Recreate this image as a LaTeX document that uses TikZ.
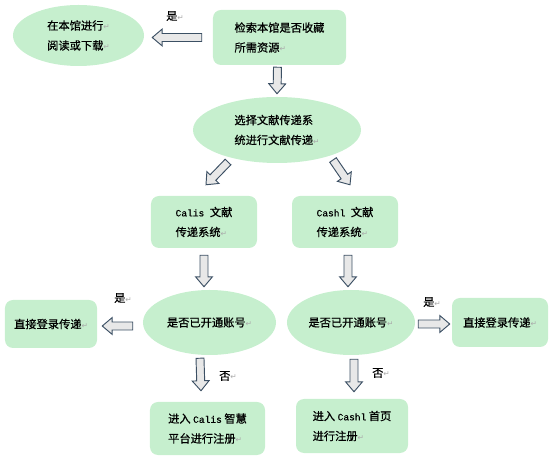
\documentclass[tikz,border=0pt]{standalone}
\definecolor{nodegreen}{RGB}{198,239,206}
\definecolor{arrowfill}{RGB}{232,232,232}
\definecolor{arrowedge}{RGB}{60,80,100}
\definecolor{markgray}{RGB}{170,170,170}
\usepackage{fontspec}
\setmainfont{Noto Sans CJK SC}[FakeBold=0.6, AutoFakeBold=0.6]
\setmonofont{Liberation Mono}[Scale=0.85, FakeBold=0.6]
\newfontfamily\markfont{DejaVu Sans}
\usetikzlibrary{shapes.geometric,calc}
\newcommand{\pmark}{{\markfont\color{markgray}\fontsize{6.5}{6.5}\selectfont ↵}}

\tikzset{
  greenbox/.style={fill=nodegreen, rounded corners=0.24cm, align=left, inner sep=0pt},
  greenoval/.style={ellipse, fill=nodegreen, align=left, inner sep=0pt},
  marklabel/.style={anchor=west, inner sep=0pt},
  blockarrow/.style={draw=arrowedge, fill=arrowfill, line width=0.8pt, line join=miter,
    to path={let \p1=(\tikztostart), \p2=(\tikztotarget),
      \n1={atan2(\y2-\y1,\x2-\x1)}, \n2={veclen(\x2-\x1,\y2-\y1)} in
      ($(\p1)+(\n1+90:3.4pt)$) -- ($(\p1)+(\n1:\n2-8.5pt)+(\n1+90:3.4pt)$)
      -- ($(\p1)+(\n1:\n2-8.5pt)+(\n1+90:7.2pt)$) -- (\p2)
      -- ($(\p1)+(\n1:\n2-8.5pt)+(\n1-90:7.2pt)$) -- ($(\p1)+(\n1:\n2-8.5pt)+(\n1-90:3.4pt)$)
      -- ($(\p1)+(\n1-90:3.4pt)$) -- cycle}}
}

\begin{document}
\begin{tikzpicture}[x=0.03cm, y=-0.03cm, font=\fontsize{9.6}{17}\selectfont]
    \useasboundingbox (0,0) rectangle (554,459);

    % top row
    \node[greenbox, minimum width=3.99cm, minimum height=1.65cm] (chk) at (279.5,37.5) {检索本馆是否收藏\\所需资源\pmark};
    \node[greenoval, minimum width=3.93cm, minimum height=1.83cm] (rd) at (78.5,35.5) {在本馆进行\pmark\\阅读或下载\pmark};
    \node[greenoval, minimum width=5.04cm, minimum height=1.98cm] (sel) at (277,130) {选择文献传递系\\统进行文献传递\pmark};

    % two systems
    \node[greenbox, minimum width=3.18cm, minimum height=1.56cm] (calis) at (204,222) {\texttt{Calis}\enspace 文献\\传递系统\pmark};
    \node[greenbox, minimum width=3.18cm, minimum height=1.56cm] (cashl) at (345,222) {\texttt{Cashl}\enspace 文献\\传递系统\pmark};

    \node[greenoval, minimum width=3.99cm, minimum height=1.95cm] (lq) at (209.5,322.5) {是否已开通账号\pmark};
    \node[greenoval, minimum width=3.84cm, minimum height=1.95cm] (rq) at (351,322.5) {是否已开通账号\pmark};
    \node[greenbox, minimum width=2.76cm, minimum height=1.44cm] (lgo) at (51,324) {直接登录传递\pmark};
    \node[greenbox, minimum width=2.88cm, minimum height=1.47cm] (rgo) at (500,322.5) {直接登录传递\pmark};

    \node[greenbox, minimum width=3.45cm, minimum height=1.59cm] (lreg) at (207.5,428.5) {进入 \texttt{Calis} 智慧\\平台进行注册\pmark};
    \node[greenbox, minimum width=3.36cm, minimum height=1.62cm] (rreg) at (352,426) {进入 \texttt{Cashl} 首页\\进行注册\pmark};

    % arrows
    \draw[blockarrow] ([shift={(-11,0)}]chk.west) to ([shift={(8,2)}]rd.east);
    \draw[blockarrow] ([shift={(-2,2)}]chk.south) to ([shift={(0,-3)}]sel.north);
    \draw[blockarrow] ([shift={(-49,32)}]sel.center) to ([shift={(2,-11)}]calis.north);
    \draw[blockarrow] ([shift={(56,30)}]sel.center) to ([shift={(5,-11)}]cashl.north);
    \draw[blockarrow] ([shift={(0,7)}]calis.south) to ([shift={(-5.5,-3)}]lq.north);
    \draw[blockarrow] ([shift={(3,7)}]cashl.south) to ([shift={(-3,-3)}]rq.north);
    \draw[blockarrow] ([shift={(-10,3.5)}]lq.west) to ([shift={(5,2)}]lgo.east);
    \draw[blockarrow] ([shift={(3,1.5)}]rq.east) to ([shift={(-2,1.5)}]rgo.west);
    \draw[blockarrow] ([shift={(-9.5,3)}]lq.south) to ([shift={(-6.5,-11)}]lreg.north);
    \draw[blockarrow] ([shift={(3,4)}]rq.south) to ([shift={(2,-7)}]rreg.north);

    % labels
    \node[marklabel] (yes1) at (166,16) {是\pmark};
    \node[marklabel] (yes2) at (114,298) {是\pmark};
    \node[marklabel] (yes3) at (423,302) {是\pmark};
    \node[marklabel] (no1) at (219,376) {否\pmark};
    \node[marklabel] (no2) at (372,373) {否\pmark};
\end{tikzpicture}
\end{document}
